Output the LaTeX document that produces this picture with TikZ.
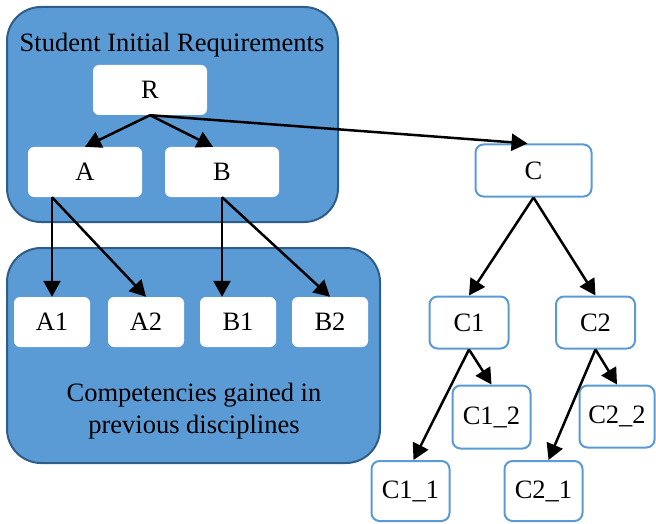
\documentclass[tikz,border=0pt]{standalone}
\usepackage{fontspec}
\setmainfont{Liberation Serif}
\usetikzlibrary{arrows.meta,calc}
\definecolor{boxblue}{HTML}{5B9BD5}
\definecolor{boxedge}{HTML}{2F5D8A}
\tikzset{
  container/.style={draw=boxedge, line width=2pt, fill=boxblue, rounded corners=34pt, inner sep=0pt},
  inbox/.style={fill=white, rounded corners=6pt, inner sep=0pt, font=\fontsize{26.5}{31}\selectfont},
  outbox/.style={draw=boxblue, line width=2pt, fill=white, rounded corners=8pt, inner sep=0pt, font=\fontsize{26.5}{31}\selectfont},
  caption/.style={font=\fontsize{26.5}{32}\selectfont, align=center, inner sep=0pt},
  link/.style={line width=2.5pt, -{Triangle[length=16pt,width=17pt]}}
}
\begin{document}
\begin{tikzpicture}[x=1pt,y=-1pt]
\useasboundingbox (0,0) rectangle (656,524);
% group containers
\node[container, minimum width=331pt, minimum height=215pt] (top) at (172.5,114.5) {};
\node[container, minimum width=373pt, minimum height=215pt] (bottom) at (193.5,355.5) {};
\node[caption] (toptitle) at (172,45) {Student Initial Requirements};
\node[caption] (bottomtitle) at (194,411) {Competencies gained in\\previous disciplines};
% requirement nodes
\node[inbox, minimum width=114pt, minimum height=50pt] (R) at (150,90) {R};
\node[inbox, minimum width=114pt, minimum height=50pt] (A) at (85,172) {A};
\node[inbox, minimum width=114pt, minimum height=50pt] (B) at (222,172) {B};
% competencies
\node[inbox, minimum width=76pt, minimum height=50pt] (A1) at (52,322) {A1};
\node[inbox, minimum width=76pt, minimum height=50pt] (A2) at (146,322) {A2};
\node[inbox, minimum width=76pt, minimum height=50pt] (B1) at (238,322) {B1};
\node[inbox, minimum width=76pt, minimum height=50pt] (B2) at (330,322) {B2};
% tree of C
\node[outbox, minimum width=116pt, minimum height=52pt] (C) at (533.5,170.5) {C};
\node[outbox, minimum width=79pt, minimum height=52pt] (C1) at (469,322.5) {C1};
\node[outbox, minimum width=79pt, minimum height=52pt] (C2) at (595.5,322.5) {C2};
\node[outbox, minimum width=78pt, minimum height=63pt] (C12) at (491.5,417) {C1\_2};
\node[outbox, minimum width=75pt, minimum height=62pt] (C22) at (617,416.5) {C2\_2};
\node[outbox, minimum width=78pt, minimum height=60pt] (C11) at (410.5,491) {C1\_1};
\node[outbox, minimum width=78pt, minimum height=60pt] (C21) at (543.5,491) {C2\_1};
% connectors
\draw[link] (R.south) -- (A.north);
\draw[link] (R.south) -- ($(B.north)+(-9,0)$);
\draw[link] (R.south) -- ($(C.north)+(-6,0)$);
\draw[link] (A1 |- A.south) -- (A1.north);
\draw[link] (A1 |- A.south) -- (A2.north);
\draw[link] (B.south) -- (B.south |- B1.north);
\draw[link] (B.south) -- (B2.north);
\draw[link] (C.south) -- (C1.north);
\draw[link] (C.south) -- (C2.north);
\draw[link] (C1.south) -- ($(C11.north)+(3,0)$);
\draw[link] (C1.south) -- (C12.north);
\draw[link] (C2.south) -- ($(C21.north)+(5,0)$);
\draw[link] (C2.south) -- (C22.north);
\end{tikzpicture}
\end{document}
